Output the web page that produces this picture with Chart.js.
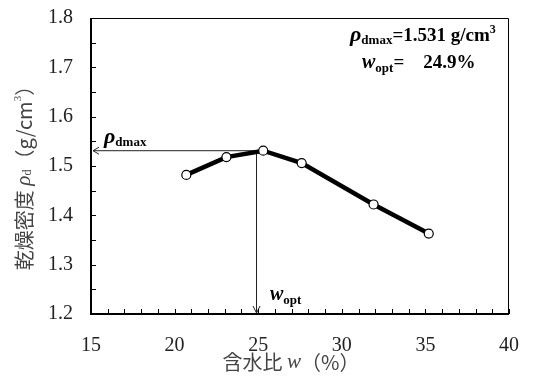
<!DOCTYPE html>
<html><head><meta charset="utf-8">
<script src="https://cdn.jsdelivr.net/npm/chart.js@4"></script>
<style>html,body{margin:0;padding:0;background:#fff}#wrap{width:533px;height:380px}</style>
</head><body><div id="wrap"><canvas id="c" width="533" height="380"></canvas></div>
<script>
const waterContent = [20.7, 23.1, 25.3, 27.6, 31.9, 35.2];
const dryDensity = [1.482, 1.518, 1.531, 1.506, 1.422, 1.363];
const wOpt = 24.9;
const rhoDmax = 1.531;
const xTicks = [15, 20, 25, 30, 35, 40];
const yTicks = [1.2, 1.3, 1.4, 1.5, 1.6, 1.7, 1.8];

const SERIF = '"Liberation Serif", "DejaVu Serif", serif';
const CJK = '"Noto Sans CJK JP", "Noto Sans CJK SC", sans-serif';

function runsWidth(ctx, runs){let w=0;for(const r of runs){ctx.font=r.font;w+=ctx.measureText(r.text).width;}return w;}
function drawRuns(ctx, runs, x, y){
  for(const r of runs){ctx.font=r.font;ctx.fillStyle=r.color||'#000';ctx.fillText(r.text,x,y+(r.dy||0));x+=ctx.measureText(r.text).width;}
  return x;
}

const decor = {
  id:'decor',
  beforeDatasetsDraw(chart){
    const {ctx, chartArea:a, scales:{x,y}} = chart;
    ctx.save();
    const px = x.getPixelForValue(wOpt), py = y.getPixelForValue(rhoDmax);
    ctx.strokeStyle='#222'; ctx.lineWidth=1;
    ctx.beginPath(); ctx.moveTo(px, py); ctx.lineTo(a.left+2, py); ctx.stroke();
    ctx.beginPath(); ctx.moveTo(px, py); ctx.lineTo(px, a.bottom-1); ctx.stroke();
    ctx.beginPath(); ctx.moveTo(a.left+8, py-3.5); ctx.lineTo(a.left+2, py); ctx.lineTo(a.left+8, py+3.5); ctx.stroke();
    ctx.beginPath(); ctx.moveTo(px-3.5, a.bottom-8); ctx.lineTo(px, a.bottom-1); ctx.lineTo(px+3.5, a.bottom-8); ctx.stroke();
    ctx.restore();
  },
  afterDraw(chart){
    const {ctx, chartArea:a, scales:{x,y}} = chart;
    ctx.save();
    ctx.strokeStyle='#000';
    ctx.lineWidth=1;
    ctx.beginPath(); ctx.moveTo(a.left, a.top+0.5); ctx.lineTo(a.right-0.5, a.top+0.5); ctx.lineTo(a.right-0.5, a.bottom); ctx.stroke();
    ctx.lineWidth=2;
    ctx.beginPath(); ctx.moveTo(a.left, a.top); ctx.lineTo(a.left, a.bottom); ctx.lineTo(a.right, a.bottom); ctx.stroke();
    ctx.lineWidth=1;
    for(let v=15; v<=40; v+=1){
      const p=Math.round(x.getPixelForValue(v))+0.5;
      ctx.beginPath(); ctx.moveTo(p,a.bottom); ctx.lineTo(p,a.bottom-5); ctx.stroke();
    }
    for(let i=0;i<=12;i++){
      const v=1.2+i*0.05;
      const p=Math.round(y.getPixelForValue(v))+0.5;
      ctx.beginPath(); ctx.moveTo(a.left,p); ctx.lineTo(a.left+5,p); ctx.stroke();
    }
    ctx.textBaseline='middle';
    const col='#444';
    const xr=[
      {text:'含水比 ',font:'20px '+CJK,color:col},
      {text:'w',font:'italic 21px '+SERIF,color:col},
      {text:'（%）',font:'20px '+CJK,color:col}
    ];
    const xw=runsWidth(ctx,xr);
    drawRuns(ctx,xr,291-xw/2,362);
    const yr=[
      {text:'乾燥密度 ',font:'20px '+CJK,color:col},
      {text:'ρ',font:'italic 21px '+SERIF,color:col},
      {text:'d',font:'12px '+SERIF,color:col,dy:4},
      {text:'（g/cm',font:'20px '+CJK,color:col},
      {text:'3',font:'11px '+SERIF,color:col,dy:-6},
      {text:'）',font:'20px '+CJK,color:col}
    ];
    const yw=runsWidth(ctx,yr);
    ctx.save(); ctx.translate(24,173); ctx.rotate(-Math.PI/2);
    drawRuns(ctx,yr,-yw/2,0);
    ctx.restore();
    ctx.textBaseline='alphabetic';
    drawRuns(ctx,[
      {text:'ρ',font:'bold italic 22px '+SERIF},
      {text:'dmax',font:'bold 13px '+SERIF,dy:3}
    ],104,143);
    drawRuns(ctx,[
      {text:'w',font:'bold italic 20px '+SERIF},
      {text:'opt',font:'bold 13px '+SERIF,dy:4}
    ],270,300);
    drawRuns(ctx,[
      {text:'ρ',font:'bold italic 22px '+SERIF},
      {text:'dmax',font:'bold 13px '+SERIF,dy:3},
      {text:'=1.531 g/cm',font:'bold 19px '+SERIF},
      {text:'3',font:'bold 12px '+SERIF,dy:-8}
    ],350,41);
    drawRuns(ctx,[
      {text:'w',font:'bold italic 20px '+SERIF},
      {text:'opt',font:'bold 13px '+SERIF,dy:4},
      {text:'=    24.9%',font:'bold 19px '+SERIF}
    ],362,68);
    ctx.restore();
  }
};

function build(){
new Chart(document.getElementById('c'), {
  type:'line',
  data:{datasets:[{
    data: waterContent.map((w,i)=>({x:w,y:dryDensity[i]})),
    borderColor:'#000', borderWidth:4.5, tension:0,
    pointRadius:4.5, pointBackgroundColor:'#fff', pointBorderColor:'#000', pointBorderWidth:1.2
  }]},
  options:{
    responsive:false, animation:false,
    layout:{padding:{top:18,right:24,left:0,bottom:0}},
    plugins:{legend:{display:false},tooltip:{enabled:false}},
    scales:{
      x:{type:'linear',min:15,max:40,
        afterBuildTicks(s){s.ticks=xTicks.map(v=>({value:v}));},
        afterFit(s){s.height=66;s.paddingLeft=0;s.paddingRight=0;},
        grid:{display:false,drawTicks:false},border:{display:false},
        ticks:{padding:20,maxRotation:0,font:{family:SERIF,size:20},color:'#222',callback:v=>String(v)}},
      y:{type:'linear',min:1.2,max:1.8,
        afterBuildTicks(s){s.ticks=yTicks.map(v=>({value:v}));},
        afterFit(s){s.width=91;s.paddingTop=0;s.paddingBottom=0;},
        grid:{display:false,drawTicks:false},border:{display:false},
        ticks:{padding:18,font:{family:SERIF,size:20},color:'#222',callback:v=>Number(v).toFixed(1)}}
    }
  },
  plugins:[decor]
});
}
Promise.all([
  document.fonts.load('20px "Liberation Serif"'),
  document.fonts.load('bold 20px "Liberation Serif"'),
  document.fonts.load('italic 20px "Liberation Serif"'),
  document.fonts.load('bold italic 20px "Liberation Serif"'),
  document.fonts.load('20px "Noto Sans CJK JP"')
]).then(build, build);
</script></body></html>
